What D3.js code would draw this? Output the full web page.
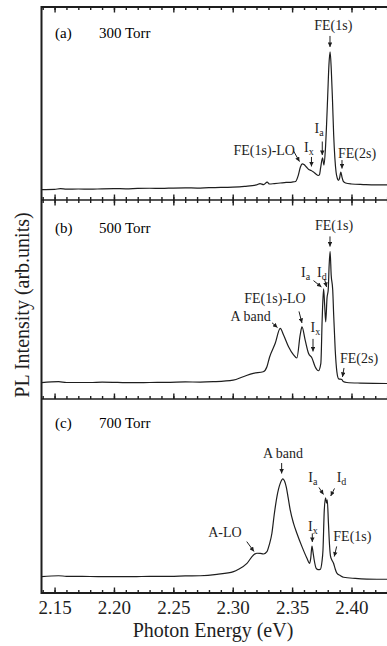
<!DOCTYPE html>
<html>
<head>
<meta charset="utf-8">
<script src="https://cdn.jsdelivr.net/npm/d3@7"></script>
<style>
  body { margin: 0; background: #fff; }
  svg { display: block; font-family: 'Liberation Serif', 'Times New Roman', serif; }
</style>
</head>
<body>
<div class="graph"></div>
<script>
// [photon energy (eV), PL intensity (arb. units, 0-100 per panel)]
const spectrum300 = [
  [2.139, 5.4], [2.15, 5.5], [2.155, 5.9], [2.16, 5.6], [2.17, 5.7], [2.18, 5.6], [2.19, 5.8],
  [2.20, 5.9], [2.21, 5.8], [2.22, 6.0], [2.23, 6.1], [2.24, 6.0], [2.25, 6.2], [2.26, 6.3],
  [2.27, 6.2], [2.28, 6.4], [2.29, 6.5], [2.30, 6.7], [2.31, 7.1], [2.32, 7.8], [2.323, 8.5],
  [2.326, 8.0], [2.329, 9.3], [2.331, 8.3], [2.335, 8.5], [2.34, 8.8], [2.345, 9.1], [2.35, 9.3],
  [2.353, 9.6], [2.355, 12.4], [2.357, 17.1], [2.3585, 18.7], [2.360, 18.4], [2.362, 17.1],
  [2.364, 15.8], [2.366, 15.3], [2.368, 14.5], [2.370, 13.5], [2.372, 12.7], [2.373, 13.0],
  [2.374, 16.6], [2.3756, 21.8], [2.3768, 18.1], [2.378, 25.9], [2.379, 38.9], [2.380, 54.4],
  [2.381, 69.9], [2.382, 76.7], [2.383, 67.4], [2.384, 51.8], [2.385, 33.7], [2.386, 21.8],
  [2.387, 14.5], [2.388, 11.4], [2.389, 10.1], [2.390, 11.4], [2.391, 14.5], [2.392, 11.9],
  [2.393, 9.8], [2.395, 8.8], [2.40, 8.3], [2.41, 8.0], [2.42, 7.8], [2.43, 7.8], [2.44, 7.8]
];

const spectrum500 = [
  [2.139, 8.2], [2.1534, 8.7], [2.16, 8.3], [2.18, 8.3], [2.19, 8.5], [2.2162, 8.2], [2.23, 8.3],
  [2.2474, 8.4], [2.26, 8.6], [2.2726, 8.5], [2.2836, 8.7], [2.3004, 9.5], [2.3088, 11.2],
  [2.3173, 12.9], [2.3257, 13.7], [2.3288, 16.2], [2.331, 21.0], [2.3358, 28.0], [2.34, 35.5],
  [2.3428, 32.2], [2.3470, 26.3], [2.3512, 22.2], [2.354, 20.6], [2.3568, 32.2], [2.3583, 36.2],
  [2.361, 29.6], [2.3638, 23.0], [2.3667, 20.6], [2.3694, 16.2], [2.3722, 14.2], [2.3742, 17.9],
  [2.3753, 39.7], [2.3765, 55.3], [2.3774, 47.2], [2.3783, 38.7], [2.3794, 50.8], [2.3804, 54.8],
  [2.3812, 67.3], [2.382, 74.1], [2.3829, 62.3], [2.3842, 54.8], [2.385, 42.2], [2.3863, 24.6],
  [2.3877, 13.6], [2.3892, 10.1], [2.3919, 9.8], [2.393, 8.8], [2.3961, 8.3], [2.4073, 8.0],
  [2.4298, 7.8], [2.44, 7.8]
];

const spectrum700 = [
  [2.139, 8.4], [2.1534, 8.9], [2.16, 8.6], [2.18, 8.5], [2.20, 8.4], [2.2162, 8.4], [2.23, 8.6],
  [2.2474, 8.6], [2.26, 8.8], [2.2726, 8.9], [2.2867, 9.6], [2.3007, 11.0], [2.3049, 12.2],
  [2.312, 15.3], [2.3175, 19.6], [2.3204, 20.5], [2.3232, 20.4], [2.3259, 20.1], [2.3288, 21.3],
  [2.3307, 24.7], [2.333, 30.8], [2.3349, 40.2], [2.3372, 49.6], [2.34, 56.5], [2.3423, 58.8],
  [2.3436, 57.7], [2.345, 54.8], [2.3467, 49.0], [2.3484, 42.8], [2.3512, 35.9], [2.354, 30.8],
  [2.3583, 23.9], [2.3625, 17.9], [2.3647, 15.3], [2.3657, 18.0], [2.3667, 24.2], [2.3676, 21.1],
  [2.3686, 17.0], [2.3703, 12.7], [2.372, 12.0], [2.3737, 12.2], [2.3751, 16.0], [2.376, 22.2],
  [2.3771, 42.8], [2.3782, 49.0], [2.3789, 46.4], [2.3796, 48.0], [2.3806, 35.9], [2.3815, 24.7],
  [2.3823, 19.1], [2.3835, 17.0], [2.3849, 15.3], [2.3863, 12.4], [2.3877, 10.2], [2.3905, 9.0],
  [2.3933, 8.1], [2.4031, 7.5], [2.413, 7.2], [2.4298, 7.1], [2.44, 7.1]
];

const panelTags = ['(a)', '(b)', '(c)'];
const pressures = ['300 Torr', '500 Torr', '700 Torr'];
const majorTicks = [2.15, 2.20, 2.25, 2.30, 2.35, 2.40, 2.45];
const tickLabels = [2.15, 2.20, 2.25, 2.30, 2.35, 2.40];

// peak labels: text position and arrow (tail -> tip) in eV / intensity units
const notes300 = [
  { label: 'FE(1s)', x: 2.3847, y: 88.1, anchor: 'middle', arrow: [2.3819, 85.0, 2.3819, 79.3] },
  { label: 'FE(1s)-LO', x: 2.3524, y: 23.3, anchor: 'end', arrow: [2.3512, 25.4, 2.3562, 19.9] },
  { label: 'I', sub: 'x', x: 2.3600, y: 24.9, arrow: [2.3663, 22.3, 2.3663, 17.4] },
  { label: 'I', sub: 'a', x: 2.3689, y: 34.5, arrow: [2.3754, 30.3, 2.3754, 23.3] },
  { label: 'FE(2s)', x: 2.3886, y: 21.8, arrow: [2.3920, 20.7, 2.3920, 16.3] }
];
const notes500 = [
  { label: 'FE(1s)', x: 2.3853, y: 84.9, anchor: 'middle', arrow: [2.3819, 81.7, 2.3819, 76.6] },
  { label: 'I', sub: 'a', x: 2.3575, y: 61.3, arrow: [2.3680, 59.5, 2.3747, 56.3] },
  { label: 'I', sub: 'd', x: 2.3710, y: 61.5, arrow: [2.3773, 60.3, 2.3790, 56.3] },
  { label: 'FE(1s)-LO', x: 2.3356, y: 48.1, anchor: 'middle', arrow: [2.3558, 44.0, 2.3583, 38.2] },
  { label: 'A band', x: 2.3151, y: 39.2, anchor: 'middle', arrow: [2.3331, 38.3, 2.3377, 35.9] },
  { label: 'I', sub: 'x', x: 2.3655, y: 33.9, arrow: [2.3676, 30.2, 2.3676, 23.9] },
  { label: 'FE(2s)', x: 2.3903, y: 18.3, arrow: [2.3937, 15.6, 2.3924, 11.1] }
];
const notes700 = [
  { label: 'A band', x: 2.3423, y: 69.6, anchor: 'middle', arrow: [2.3412, 67.0, 2.3412, 61.6] },
  { label: 'I', sub: 'a', x: 2.3636, y: 57.2, arrow: [2.3726, 54.4, 2.3764, 50.8] },
  { label: 'I', sub: 'd', x: 2.3875, y: 57.2, arrow: [2.3857, 53.9, 2.3825, 50.0] },
  { label: 'I', sub: 'x', x: 2.3634, y: 32.0, arrow: [2.3670, 30.7, 2.3670, 26.3] },
  { label: 'FE(1s)', x: 2.3847, y: 26.8, arrow: [2.3875, 24.0, 2.3855, 18.8] },
  { label: 'A-LO', x: 2.2794, y: 29.0, arrow: [2.3118, 26.5, 2.3179, 21.4] }
];

const spectra = [spectrum300, spectrum500, spectrum700];
const notes = [notes300, notes500, notes700];

function displayGraph() {
  const w = 387;
  const h = 646;
  const left = 41.5;
  const panelTops = [7, 200, 399];
  const panelBottoms = [200, 399, 593];
  const topTicks = [true, true, false];
  const tagOffsets = [31, 33, 29];
  const ink = '#1e1e1e';

  const xScale = d3.scaleLinear()
    .domain([2.139, 2.44])
    .range([left, 399]);

  const svg = d3.select('.graph')
    .append('svg')
    .attr('width', w)
    .attr('height', h);

  const defs = svg.append('defs');
  defs.append('clipPath')
    .attr('id', 'plot-area')
    .append('rect')
    .attr('x', left)
    .attr('y', panelTops[0])
    .attr('width', w - left)
    .attr('height', panelBottoms[2] - panelTops[0]);
  defs.append('marker')
    .attr('id', 'arrow')
    .attr('viewBox', '0 0 6 6')
    .attr('refX', 6)
    .attr('refY', 3)
    .attr('markerWidth', 5)
    .attr('markerHeight', 4.5)
    .attr('markerUnits', 'userSpaceOnUse')
    .attr('orient', 'auto')
    .append('path')
    .attr('d', 'M0,0L6,3L0,6Z')
    .attr('fill', ink);

  const minorTicks = xScale.ticks(30);

  spectra.forEach((data, i) => {
    const top = panelTops[i];
    const bottom = panelBottoms[i];
    const yScale = d3.scaleLinear()
      .domain([0, 100])
      .range([bottom, top]);
    const g = svg.append('g').attr('class', `panel-${i}`);

    // inward ticks
    const axes = [];
    if (topTicks[i]) axes.push({ axis: d3.axisTop, y: top });
    axes.push({ axis: d3.axisBottom, y: bottom });
    axes.forEach((a) => {
      g.append('g')
        .attr('transform', `translate(0, ${a.y})`)
        .call(a.axis(xScale).tickValues(minorTicks).tickSize(-3).tickFormat(''))
        .call((s) => s.select('.domain').remove());
      g.append('g')
        .attr('class', 'major')
        .attr('transform', `translate(0, ${a.y})`)
        .call(a.axis(xScale).tickValues(majorTicks).tickSize(-5.5).tickFormat(''))
        .call((s) => s.select('.domain').remove());
    });
    g.selectAll('.tick line')
      .attr('stroke', ink)
      .attr('stroke-width', 1.4);

    g.append('path')
      .datum(data)
      .attr('clip-path', 'url(#plot-area)')
      .attr('fill', 'none')
      .attr('stroke', ink)
      .attr('stroke-width', 1.2)
      .attr('stroke-linejoin', 'round')
      .attr('d', d3.line()
        .x((d) => xScale(d[0]))
        .y((d) => yScale(d[1]))
        .curve(d3.curveMonotoneX));

    g.append('text')
      .attr('x', 55)
      .attr('y', top + tagOffsets[i])
      .style('font-size', '15px')
      .text(panelTags[i]);
    g.append('text')
      .attr('x', 99)
      .attr('y', top + tagOffsets[i])
      .style('font-size', '15px')
      .text(pressures[i]);

    notes[i].forEach((d) => {
      const t = g.append('text')
        .attr('x', xScale(d.x))
        .attr('y', yScale(d.y))
        .attr('text-anchor', d.anchor || 'start')
        .attr('fill', ink)
        .style('font-size', '14px');
      t.append('tspan').text(d.label);
      if (d.sub) {
        t.append('tspan')
          .attr('dy', 3)
          .style('font-size', '10px')
          .text(d.sub);
      }
      g.append('line')
        .attr('x1', xScale(d.arrow[0]))
        .attr('y1', yScale(d.arrow[1]))
        .attr('x2', xScale(d.arrow[2]))
        .attr('y2', yScale(d.arrow[3]))
        .attr('stroke', ink)
        .attr('stroke-width', 1)
        .attr('marker-end', 'url(#arrow)');
    });
  });

  // frame
  svg.append('line')
    .attr('x1', left).attr('x2', left)
    .attr('y1', panelTops[0] - 1).attr('y2', panelBottoms[2] + 1)
    .attr('stroke', ink)
    .attr('stroke-width', 2);
  [panelTops[0], panelBottoms[0], panelBottoms[1], panelBottoms[2]].forEach((y, i) => {
    svg.append('line')
      .attr('x1', left).attr('x2', w)
      .attr('y1', y).attr('y2', y)
      .attr('stroke', ink)
      .attr('stroke-width', i === 0 || i === 3 ? 2 : 1.6);
  });

  // x axis labels
  svg.append('g')
    .attr('transform', `translate(0, ${panelBottoms[2]})`)
    .call(d3.axisBottom(xScale).tickValues(tickLabels).tickSize(0).tickPadding(7.5).tickFormat(d3.format('.2f')))
    .call((s) => s.select('.domain').remove())
    .selectAll('text')
    .attr('fill', ink)
    .style('font-family', "'Liberation Serif', 'Times New Roman', serif")
    .style('font-size', '19px');

  svg.append('text')
    .attr('x', 213)
    .attr('y', 637)
    .attr('text-anchor', 'middle')
    .attr('fill', ink)
    .style('font-size', '20px')
    .text('Photon Energy (eV)');

  svg.append('text')
    .attr('transform', 'rotate(-90)')
    .attr('x', -305)
    .attr('y', 29)
    .attr('text-anchor', 'middle')
    .attr('fill', ink)
    .style('font-size', '20px')
    .text('PL Intensity (arb.units)');
}

displayGraph();
</script>
</body>
</html>
